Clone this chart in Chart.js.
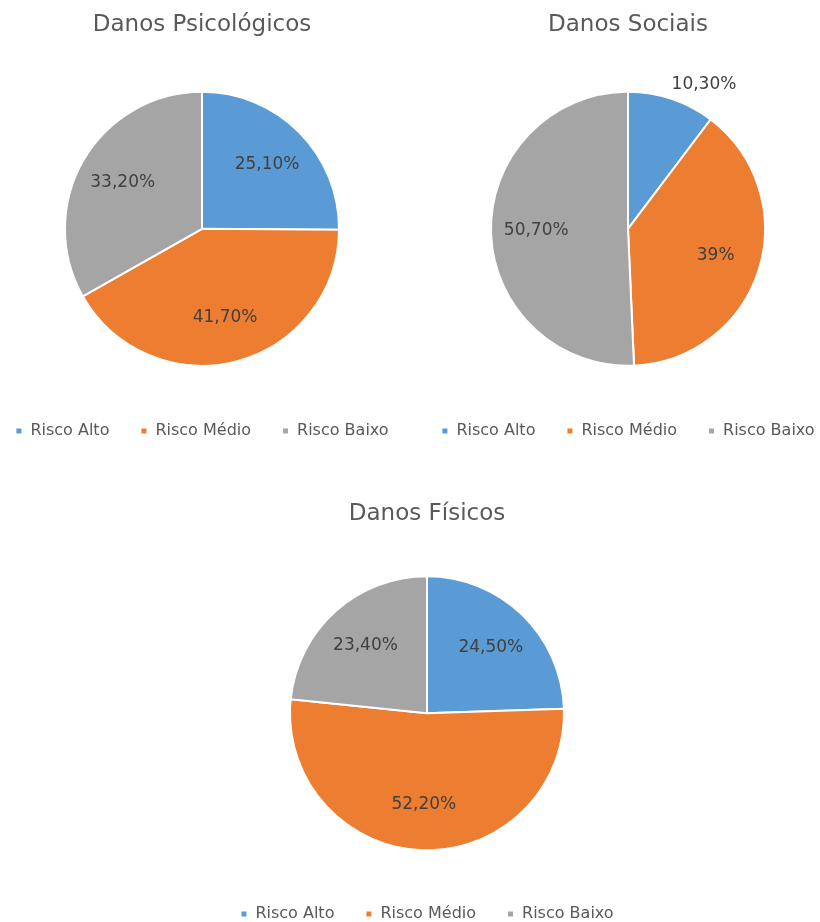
<!DOCTYPE html>
<html>
<head>
<meta charset="utf-8">
<script src="https://cdn.jsdelivr.net/npm/chart.js@4"></script>
<style>
  body { margin: 0; background: #fff; width: 820px; height: 922px; position: relative; overflow: hidden; }
  .box { position: absolute; width: 440px; }
  #b1 { left: -18px; top: 0; height: 460px; }
  #b2 { left: 408px; top: 0; height: 460px; }
  #b3 { left: 207px; top: 489px; height: 443px; }
</style>
</head>
<body>
<div class="box" id="b1"><canvas id="c1"></canvas></div>
<div class="box" id="b2"><canvas id="c2"></canvas></div>
<div class="box" id="b3"><canvas id="c3"></canvas></div>
<script>
const categories = ["Risco Alto", "Risco Médio", "Risco Baixo"];
const psicologicos = [25.1, 41.7, 33.2];
const sociais = [10.3, 39, 50.7];
const fisicos = [24.5, 52.2, 23.4];
const titles = ["Danos Psicológicos", "Danos Sociais", "Danos Físicos"];

const colors = ["#5B9BD5", "#ED7D31", "#A5A5A5"];
const FONT = "'DejaVu Sans', sans-serif";

function fmt(v) {
  if (Number.isInteger(v)) return v + "%";
  return v.toFixed(2).replace(".", ",") + "%";
}

// draws the value labels like excel's best fit (roughly)
// small slices get their label outside, next to the rim
const pieLabels = {
  id: "pieLabels",
  afterDatasetsDraw(chart) {
    const ctx = chart.ctx;
    const meta = chart.getDatasetMeta(0);
    const data = chart.data.datasets[0].data;
    const total = data.reduce((a, b) => a + b, 0);
    ctx.save();
    ctx.font = "17px " + FONT;
    ctx.fillStyle = "#404040";
    meta.data.forEach((arc, i) => {
      const p = arc.getProps(["x", "y", "startAngle", "endAngle", "outerRadius"], true);
      const mid = (p.startAngle + p.endAngle) / 2;
      const cos = Math.cos(mid), sin = Math.sin(mid);
      if (data[i] / total < 0.15) {
        const r = p.outerRadius;
        ctx.textAlign = cos >= 0 ? "left" : "right";
        ctx.textBaseline = sin < 0 ? "bottom" : "top";
        ctx.fillText(fmt(data[i]), p.x + cos * r, p.y + sin * r + (sin < 0 ? -6 : 6));
      } else {
        const r = p.outerRadius * 0.67;
        ctx.textAlign = "center";
        ctx.textBaseline = "middle";
        ctx.fillText(fmt(data[i]), p.x + cos * r, p.y + sin * r);
      }
    });
    ctx.restore();
  }
};

function makePie(id, title, values, titleGap, bottomPad) {
  new Chart(document.getElementById(id), {
    type: "pie",
    data: {
      labels: categories,
      datasets: [{
        data: values,
        backgroundColor: colors,
        borderColor: "#ffffff",
        borderWidth: 2,
        radius: 137
      }]
    },
    options: {
      responsive: true,
      maintainAspectRatio: false,
      animation: false,
      events: [],
      layout: { padding: { bottom: bottomPad } },
      plugins: {
        title: {
          display: true,
          text: title,
          color: "#595959",
          font: { family: FONT, size: 23, weight: "normal" },
          padding: { top: 11, bottom: titleGap }
        },
        legend: {
          position: "bottom",
          labels: {
            color: "#595959",
            font: { family: FONT, size: 16 },
            boxWidth: 7,
            boxHeight: 7,
            padding: 31
          }
        },
        tooltip: { enabled: false }
      }
    },
    plugins: [pieLabels]
  });
}

makePie("c1", titles[0], psicologicos, 27, 11);
makePie("c2", titles[1], sociais, 27, 11);
makePie("c3", titles[2], fisicos, 24, 0);
</script>
</body>
</html>
